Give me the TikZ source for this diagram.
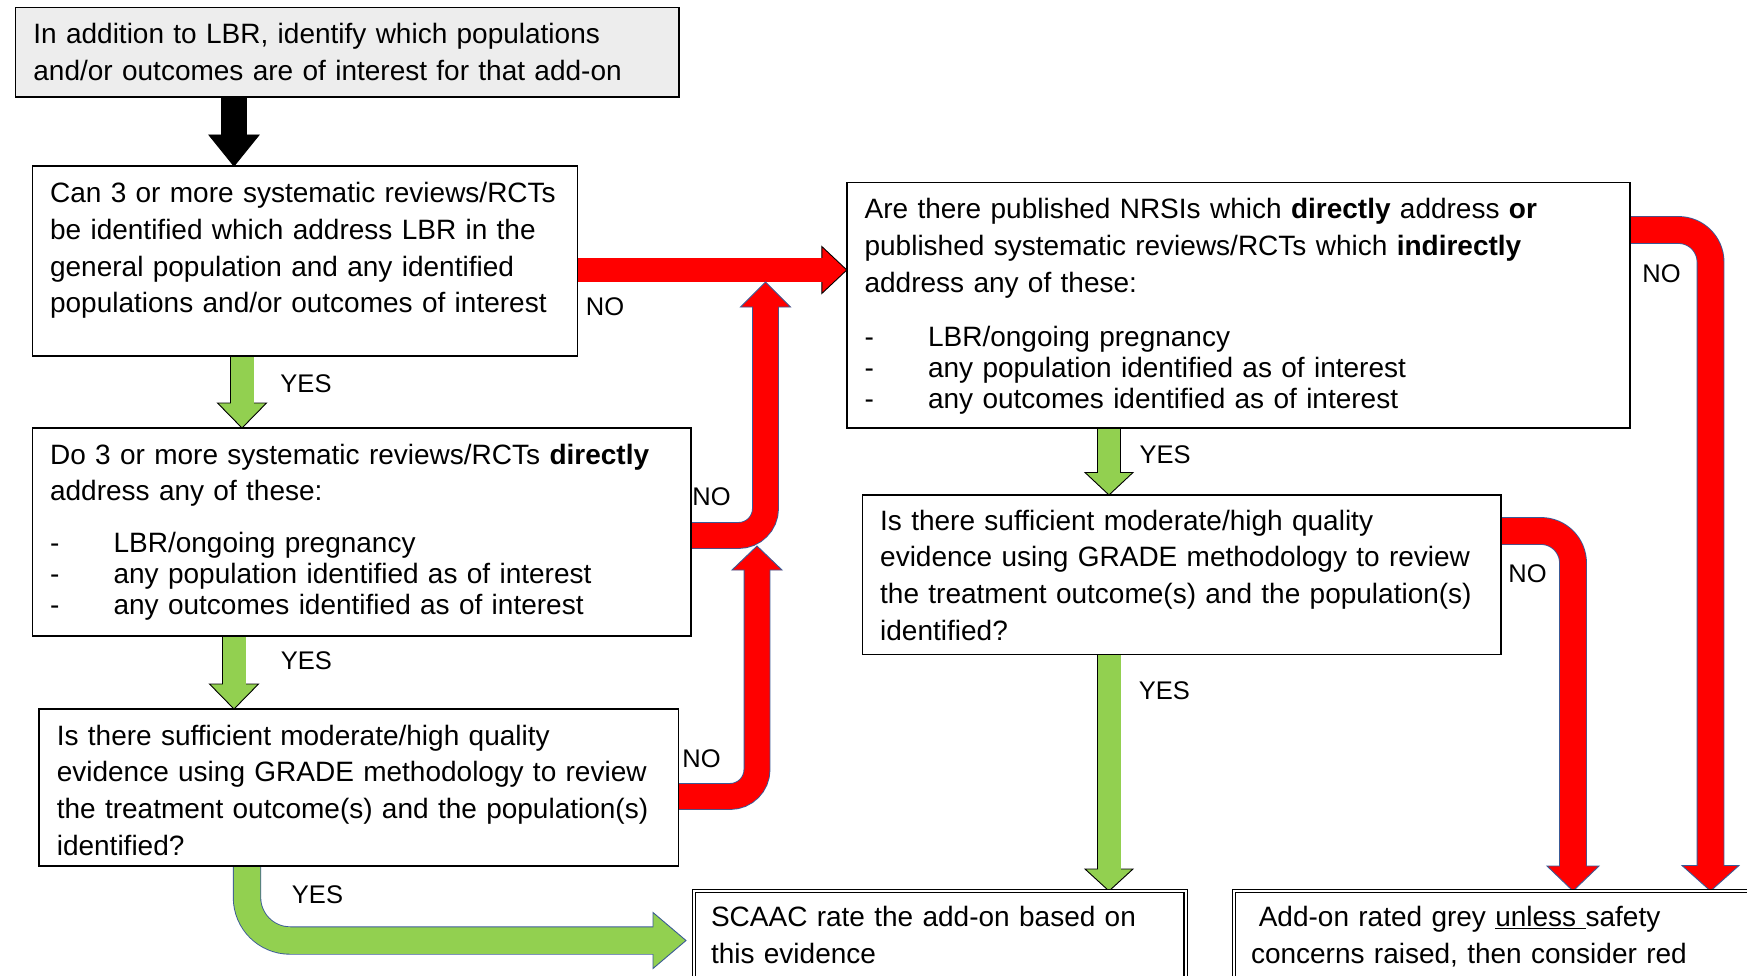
\documentclass[tikz,border=0pt]{standalone}
\usepackage{fontspec}
\setmainfont{Liberation Sans}
\usetikzlibrary{calc}
\pgfdeclarelayer{bg}
\pgfdeclarelayer{arr}
\pgfsetlayers{bg,arr,main}
\definecolor{boxgray}{RGB}{237,237,237}
\definecolor{pgreen}{RGB}{146,208,80}
\definecolor{pred}{RGB}{255,0,0}
\definecolor{oblue}{RGB}{58,90,150}
\newcommand\dashitem{\makebox[63.5pt][l]{-}}
% #1 fill, #2 outline, #3 shaft width, #4 shaft path (to head base), #5 head polygon
\newcommand\fatarr[5]{%
  \draw[draw=#2, line width=#3+1.8] #4;
  \filldraw[fill=#1, draw=#2, line width=0.9pt, line join=miter] #5;
  \draw[draw=#1, line width=#3, shorten >=-2pt] #4;
}
\begin{document}
\begin{tikzpicture}[x=1pt,y=-1pt,
  box/.style={draw=black, line width=1.6pt, inner sep=0pt, outer sep=0pt, anchor=north west},
  dbox/.style={draw=black, double=white, double distance=2pt, line width=1.1pt, inner sep=0pt, outer sep=0pt, anchor=north west},
  txt/.style={anchor=base west, inner sep=0pt, outer sep=0pt, align=left, font=\fontsize{28}{36.8}\selectfont},
  lbl/.style={inner sep=0pt, outer sep=0pt, font=\fontsize{25.5}{30}\selectfont}]
\begin{pgfonlayer}{bg}
\fill[white] (0,0) rectangle (1747,976);
\end{pgfonlayer}
\useasboundingbox (0,0) rectangle (1747,976);

% boxes
\node[box, fill=boxgray, minimum width=663.5pt, minimum height=89.5pt] (b1) at (15.5,7.5) {};
\node[box, minimum width=545.2pt, minimum height=190pt] (b2) at (32.3,166) {};
\node[box, minimum width=658.5pt, minimum height=208pt] (b3) at (32.3,428) {};
\node[box, minimum width=783.2pt, minimum height=245.3pt] (b4) at (846.8,182.7) {};
\node[box, minimum width=639.6pt, minimum height=157pt] (b5) at (39,709) {};
\node[box, minimum width=638.4pt, minimum height=159.5pt] (b6) at (862.4,495) {};
\node[dbox, minimum width=491.5pt, minimum height=130pt] (bS) at (694,891) {};
\node[dbox, minimum width=600pt, minimum height=130pt] (bG) at (1234,891) {};

% texts
\node[txt, text width=640pt] (t1) at (33.4,44) {In addition to LBR, identify which populations\\and/or outcomes are of interest for that add-on};
\node[txt, text width=525pt] (t2) at (50.1,202.5) {Can 3 or more systematic reviews/RCTs\\be identified which address LBR in the\\general population and any identified\\populations and/or outcomes of interest};
\node[txt, text width=635pt] (t3) at (50.1,464) {Do 3 or more systematic reviews/RCTs \textbf{directly}\\address any of these:\\[15.2pt]\dashitem LBR/ongoing pregnancy\\[-5.8pt]\dashitem any population identified as of interest\\[-5.8pt]\dashitem any outcomes identified as of interest};
\node[txt, text width=760pt] (t4) at (864.6,219) {Are there published NRSIs which \textbf{directly} address \textbf{or}\\published systematic reviews/RCTs which \textbf{indirectly}\\address any of these:\\[16.6pt]\dashitem LBR/ongoing pregnancy\\[-5.8pt]\dashitem any population identified as of interest\\[-5.8pt]\dashitem any outcomes identified as of interest};
\node[txt, text width=615pt] (t5) at (56.8,745) {Is there sufficient moderate/high quality\\evidence using GRADE methodology to review\\the treatment outcome(s) and the population(s)\\identified?};
\node[txt, text width=615pt] (t6) at (880.2,530) {Is there sufficient moderate/high quality\\evidence using GRADE methodology to review\\the treatment outcome(s) and the population(s)\\identified?};
\node[txt, text width=470pt] (tS) at (711,926.5) {SCAAC rate the add-on based on\\this evidence};
\node[txt, text width=480pt] (tG) at (1251,926.5) {\hspace*{0.278em}Add-on rated grey \underline{unless\ }safety\\concerns raised, then consider red};

% connector end points
\coordinate (a0s) at (b1.south -| 234,0);   \coordinate (a0t) at (b2.north -| 234,0);
\coordinate (a1s) at (b2.east |- 0,270);    \coordinate (a1t) at (b4.west |- 0,270);
\coordinate (a2s) at (b2.south -| 242,0);   \coordinate (a2t) at (b3.north -| 242,0);
\coordinate (a3s) at (b3.south -| 234,0);   \coordinate (a3t) at (b5.north -| 234,0);
\coordinate (a4s) at (b3.east |- 0,535.5);  \coordinate (a4t) at (765.5,282);
\coordinate (a5s) at (b5.east |- 0,796.5);  \coordinate (a5t) at (757,546);
\coordinate (a6s) at (b5.south -| 247,0);   \coordinate (a6x) at (bS.west |- 0,940.5);
\coordinate (a6t) at ($(a6x)+(-8,0)$);
\coordinate (a7s) at (b4.east |- 0,230);    \coordinate (a7t) at (bG.north -| 1710.5,0);
\coordinate (a8s) at (b4.south -| 1109,0);  \coordinate (a8t) at (b6.north -| 1109,0);
\coordinate (a9s) at (b6.east |- 0,531);    \coordinate (a9t) at (bG.north -| 1573,0);
\coordinate (a10s) at (b6.south -| 1109,0); \coordinate (a10t) at (bS.north -| 1109,0);

\begin{pgfonlayer}{arr}
\fatarr{black}{black}{24}{(a0s) -- ($(a0t)+(0,-31)$)}{(a0t) -- ++(-25,-31) -- ++(50,0) -- cycle}
\fatarr{pred}{black}{23}{(a1s) -- ($(a1t)+(-25,0)$)}{(a1t) -- ++(-25,-23.5) -- ++(0,47) -- cycle}
\fatarr{pgreen}{black}{23}{(a2s) -- ($(a2t)+(0,-25)$)}{(a2t) -- ++(-24.5,-25) -- ++(49,0) -- cycle}
\fatarr{pgreen}{black}{23}{(a3s) -- ($(a3t)+(0,-25)$)}{(a3t) -- ++(-24.5,-25) -- ++(49,0) -- cycle}
\fatarr{pred}{oblue}{25}{[rounded corners=27pt] (a4s) -| ($(a4t)+(0,25)$)}{(a4t) -- ++(-25,25) -- ++(50,0) -- cycle}
\fatarr{pred}{oblue}{25}{[rounded corners=27pt] (a5s) -| ($(a5t)+(0,24)$)}{(a5t) -- ++(-25,24) -- ++(50,0) -- cycle}
\fatarr{pgreen}{oblue}{26.5}{[rounded corners=43pt] (a6s) |- ($(a6t)+(-33,0)$)}{(a6t) -- ++(-33,-28) -- ++(0,56) -- cycle}
\fatarr{pred}{oblue}{26}{[rounded corners=32pt] (a7s) -| ($(a7t)+(0,-25.5)$)}{(a7t) -- ++(-28.5,-25.5) -- ++(57,0) -- cycle}
\fatarr{pgreen}{black}{22}{(a8s) -- ($(a8t)+(0,-22.5)$)}{(a8t) -- ++(-24,-22.5) -- ++(48,0) -- cycle}
\fatarr{pred}{oblue}{26}{[rounded corners=32pt] (a9s) -| ($(a9t)+(0,-25)$)}{(a9t) -- ++(-26,-25) -- ++(52,0) -- cycle}
\fatarr{pgreen}{black}{23}{(a10s) -- ($(a10t)+(0,-22)$)}{(a10t) -- ++(-24,-22) -- ++(48,0) -- cycle}
\end{pgfonlayer}

% labels
\node[lbl] (n1) at (605,306.5) {NO};
\node[lbl] (y1) at (306,383.3) {YES};
\node[lbl] (n2) at (711.5,496.5) {NO};
\node[lbl] (y2) at (306.4,660.7) {YES};
\node[lbl] (n3) at (701.5,759) {NO};
\node[lbl] (y3) at (317.5,894.4) {YES};
\node[lbl] (n4) at (1661.5,273.5) {NO};
\node[lbl] (y4) at (1165,455) {YES};
\node[lbl] (n5) at (1527.5,574) {NO};
\node[lbl] (y5) at (1164.3,691) {YES};
\end{tikzpicture}
\end{document}
